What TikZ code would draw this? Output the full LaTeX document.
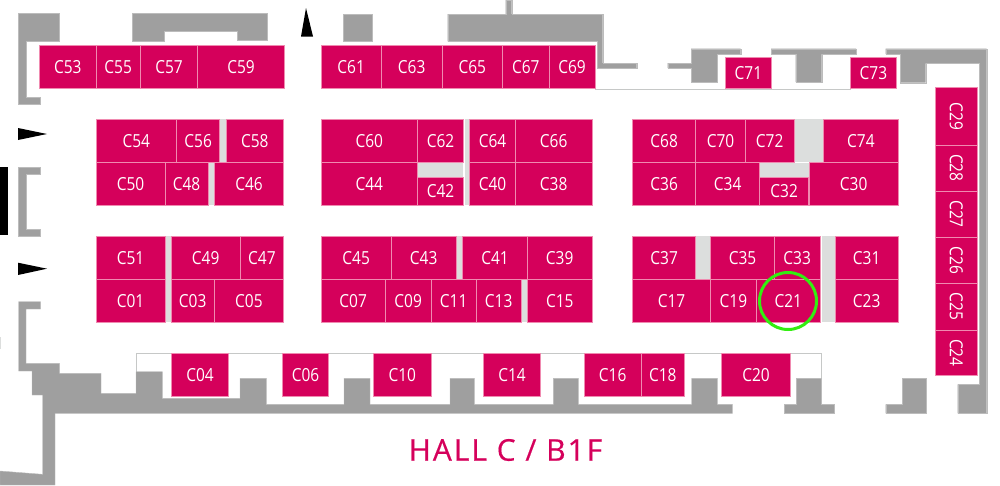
\documentclass[tikz,border=0pt]{standalone}
\usepackage{fontspec}
\setmainfont[FakeStretch=.86]{Open Sans}
\newfontfamily\hallfont[LetterSpace=6.6,FakeBold=.4]{Open Sans}
\definecolor{boothcol}{HTML}{D5005B}
\definecolor{boothline}{HTML}{F08AB0}
\definecolor{wallcol}{HTML}{9F9F9F}
\definecolor{stripcol}{HTML}{DCDEDD}
\definecolor{ringcol}{HTML}{33EE11}
\tikzset{
  booth/.style={fill=boothcol,draw=boothline,line width=.5pt},
  boothlabel/.style={text=white,inner sep=0pt,font=\fontsize{18}{20}\selectfont},
  wall/.style={fill=wallcol,draw=wallcol!70!white,line width=.4pt},
  strip/.style={fill=stripcol},
  outline/.style={draw=stripcol!90!black,line width=1pt},
}

\begin{document}
\begin{tikzpicture}[x=1pt,y=-1pt]
  \useasboundingbox (0,0) rectangle (1000,485);
  % thin outlines behind the booths
  \draw[outline] (595,89)--(851,89);
  \draw[outline] (136.3,372)--(136.3,353.3)--(821.3,353.3)--(821.3,378);
  % walls, left side and top
  \path[wall] (18.5,13.5)--(59.5,13.5)--(59.5,41)--(26,41)--(26,97)--(40.5,97)--(40.5,104.5)--(18.5,104.5)--cycle;
  \path[wall] (132.5,13.5)--(267,13.5)--(267,40.5)--(237.5,40.5)--(237.5,31.5)--(164,31.5)--(164,41)--(132.5,41)--cycle;
  \path[wall] (18.5,167)--(40.5,167)--(40.5,174.5)--(26,174.5)--(26,229)--(40.5,229)--(40.5,236)--(18.5,236)--cycle;
  \path[wall] (342.7,14) rectangle (372,41);
  \path[wall] (447.7,14)--(505.7,14)--(505.7,0)--(511.7,0)--(511.7,14)--(602.7,14)--(602.7,63)--(636.7,63)--(636.7,68.3)--(597.3,68.3)--(597.3,41.3)--(447.7,41.3)--cycle;
  \path[wall] (667.7,63)--(691,63)--(691,48.7)--(740.7,48.7)--(740.7,54)--(717.3,54)--(717.3,82)--(691,82)--(691,68)--(667.7,68)--cycle;
  \path[wall] (771,48.7)--(856,48.7)--(856,54)--(821.7,54)--(821.7,82)--(795.7,82)--(795.7,54)--(771,54)--cycle;
  % walls, right side
  \path[wall] (957.7,413.3)--(957.7,384.3)--(979.3,384.3)--(979.3,63.3)--(925.7,63.3)--(925.7,82.7)--(900,82.7)--(900,54)--(885.7,54)--(885.7,48.7)--(986.7,48.7)--(986.7,413.3)--cycle;
  % walls, bottom
  \path[wall] (18.5,301.7)--(40.5,301.7)--(40.5,309)--(26,309)--(26,363.3)--(59.5,363.3)--(59.5,373.3)--(101,373.3)--(101,393.3)--(136,393.3)--(136,371.7)--(162.3,371.7)--(162.3,398.3)--(240,398.3)--(240,378.3)--(266.3,378.3)--(266.3,404.3)
    --(344,404.3)--(344,378.3)--(370,378.3)--(370,404.3)--(450,404.3)--(450,378.3)--(474.3,378.3)--(474.3,404.3)--(553.3,404.3)--(553.3,378.3)--(578.3,378.3)--(578.3,404.3)--(691.7,404.3)--(691.7,378.3)--(717.3,378.3)--(717.3,404.3)--(732.3,404.3)--(732.3,413.3)
    --(55,413.3)--(55,485)--(0,485)--(0,471)--(42.5,474.3)--(42.5,395)--(32,395)--(32,371)--(18.5,371)--cycle;
  \path[wall] (784.3,413.3)--(784.3,404.3)--(796,404.3)--(796,378.3)--(821.3,378.3)--(821.3,404.3)--(834.3,404.3)--(834.3,413.3)--cycle;
  \path[wall] (885.7,413.3)--(885.7,404.3)--(902,404.3)--(902,378.3)--(926,378.3)--(926,413.3)--cycle;
  % entrances
  \fill (306,8)--(313,36.5)--(301,36.5)--cycle;
  \fill (47,134)--(18,128)--(18,140)--cycle;
  \fill (47,268.7)--(18,262.7)--(18,275)--cycle;
  \fill (0,167) rectangle (7.5,235);
  \fill[stripcol] (0,337) rectangle (1,349);
  % empty strips between the booths
  \foreach \xa/\ya/\xb/\yb in {220/119.3/225.7/162,
    208.5/162.5/214/205.3,
    417.7/162.5/463.3/177.3,
    465.3/119.3/469/205.3,
    795/119.3/822.7/162,
    760/162.5/808.7/177.3,
    166/236.3/170.7/322.3,
    457/236.3/462/278.7,
    522/279.3/526.7/322.3,
    696.3/236.3/710/278.7,
    821.7/236.3/834.7/322.3}
  {
    \path[strip] (\xa,\ya) rectangle (\xb,\yb);
  }
  % booths
  \foreach \boothName/\xa/\ya/\xb/\yb in {C53/39.3/45.7/96.3/88.7,
    C55/96.3/45.7/140/88.7,
    C57/140.3/45.7/197.7/88.7,
    C59/197.7/45.7/284.5/88.7,
    C61/321/45.7/381.3/88.7,
    C63/381.3/45.7/442/88.7,
    C65/442/45.7/502.7/88.7,
    C67/502.7/45.7/549/88.7,
    C69/549/45.7/595/88.7,
    C71/725.7/57.3/771/88.7,
    C73/850.7/57.3/896/88.7,
    C54/96/119.3/176.7/162.3,
    C56/176.7/119.3/219.7/162.3,
    C58/226/119.3/283.5/162.3,
    C50/96/162.3/165/205.3,
    C48/165/162.3/208/205.3,
    C46/214.7/162.3/283.5/205.3,
    C60/321/119.3/417.7/162.3,
    C62/417.7/119.3/463.3/162.3,
    C44/321/162.3/417.7/205.3,
    C42/417.7/177.3/463.3/205.3,
    C64/469.7/119.3/515.3/162.3,
    C66/515.3/119.3/592/162.3,
    C40/469.7/162.3/515.3/205.3,
    C38/515.3/162.3/592/205.3,
    C68/632.7/119.3/695.7/162.3,
    C70/695.7/119.3/745.3/162.3,
    C72/745.3/119.3/794/162.3,
    C74/823.7/119.3/898/162.3,
    C36/632.7/162.3/695.7/205.3,
    C34/695.7/162.3/759.7/205.3,
    C32/759.7/177.3/808.7/205.3,
    C30/809.3/162.3/898/205.3,
    C51/96/236.3/165/279,
    C49/171/236.3/240.3/279,
    C47/240.3/236.3/283.5/279,
    C01/96/279/165/322.3,
    C03/171/279/214.3/322.3,
    C05/214.3/279/283.5/322.3,
    C45/321/236.3/391.3/279,
    C43/391.3/236.3/456/279,
    C41/462.7/236.3/527.3/279,
    C39/527.3/236.3/592/279,
    C07/321/279/385.3/322.3,
    C09/385.3/279/431/322.3,
    C11/431/279/476.3/322.3,
    C13/476.3/279/521/322.3,
    C15/527.7/279/592/322.3,
    C37/632.7/236.3/695.7/279,
    C35/710.7/236.3/774.3/279,
    C33/774.3/236.3/820/279,
    C31/835.3/236.3/898/279,
    C17/632.7/279/710.3/322.3,
    C19/710.3/279/756.5/322.3,
    C21/756.5/279/820/322.3,
    C23/835.3/279/898/322.3,
    C04/171.3/353.3/228.7/396,
    C06/282.7/353.3/328.3/396,
    C10/373.7/353.3/431/396,
    C14/483.3/353.3/540.7/396,
    C16/584/353.3/641.3/396,
    C18/641.3/353.3/684.3/396,
    C20/721.7/353.3/790.3/396}
  {
    \path[booth] (\xa,\ya) rectangle (\xb,\yb);
    \node[boothlabel] (\boothName) at ({(\xa+\xb)/2},{(\ya+\yb)/2}) {\boothName};
  }
  % booths along the right wall
  \foreach \boothName/\ya/\yb in {C29/87.7/144.8,
    C28/144.8/190.8,
    C27/190.8/237.2,
    C26/237.2/283.5,
    C25/283.5/329.8,
    C24/329.8/375.7}
  {
    \path[booth] (935,\ya) rectangle (977.7,\yb);
    \node[boothlabel,rotate=-90] (\boothName) at (956.3,{(\ya+\yb)/2}) {\boothName};
  }
  % marked booth
  \draw[ringcol,line width=3pt] (788,301) circle [radius=28.5];
  \node[text=boothcol,inner sep=0pt,font=\hallfont\fontsize{30}{32}\selectfont] (hallName) at (505.5,450) {HALL C / B1F};
\end{tikzpicture}
\end{document}
